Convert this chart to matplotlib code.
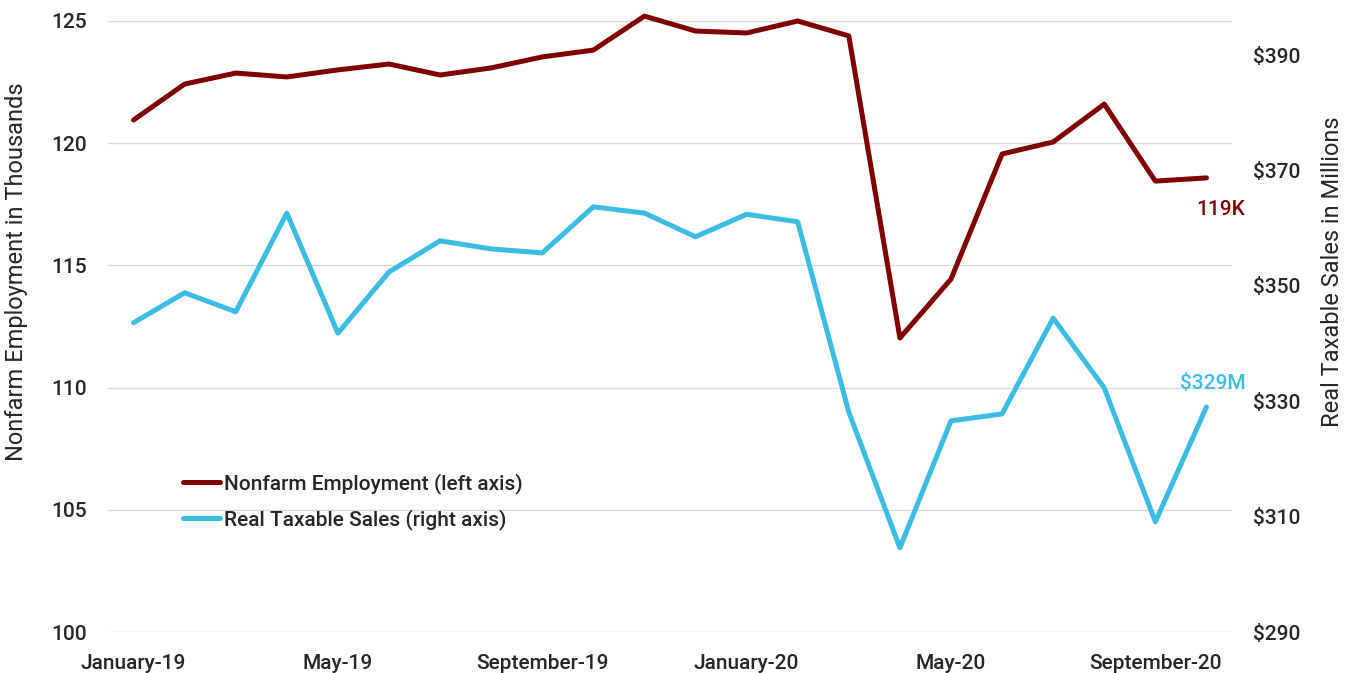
import matplotlib
matplotlib.use('Agg')
import matplotlib.pyplot as plt

# Monthly data, January 2019 - October 2020
months = ['January-19', 'February-19', 'March-19', 'April-19', 'May-19', 'June-19',
          'July-19', 'August-19', 'September-19', 'October-19', 'November-19', 'December-19',
          'January-20', 'February-20', 'March-20', 'April-20', 'May-20', 'June-20',
          'July-20', 'August-20', 'September-20', 'October-20']
employment = [120.95, 122.42, 122.87, 122.71, 123.0, 123.24, 122.79, 123.08, 123.53, 123.81,
              125.2, 124.59, 124.51, 125.0, 124.39, 112.03, 114.44, 119.56, 120.05, 121.6,
              118.45, 118.58]
sales = [343.6, 348.8, 345.5, 362.6, 341.8, 352.4, 357.8, 356.4, 355.7, 363.7, 362.6, 358.5,
         362.4, 361.1, 328.1, 304.6, 326.6, 327.8, 344.4, 332.3, 309.1, 329.0]
left_ticks = [100, 105, 110, 115, 120, 125]
right_ticks = [290, 310, 330, 350, 370, 390]

red = '#7f0000'
blue = '#3bbde3'
text_col = '#262626'
plt.rcParams['font.family'] = ['Roboto', 'DejaVu Sans']
plt.rcParams['font.weight'] = 'medium'

fig = plt.figure(figsize=(13.49, 6.73), dpi=100)
ax = fig.add_axes([108 / 1349, 41 / 673, 1124 / 1349, 611 / 673])
ax2 = ax.twinx()

x = list(range(len(months)))
l1, = ax.plot(x, employment, color=red, lw=3.6, solid_capstyle='round', clip_on=False,
              label='Nonfarm Employment (left axis)')
l2, = ax2.plot(x, sales, color=blue, lw=3.6, solid_capstyle='round', clip_on=False,
               label='Real Taxable Sales (right axis)')

ax.set_xlim(-0.5, len(months) - 0.5)
ax.set_ylim(100, 125)
ax2.set_ylim(290, 395.9)
ax.set_yticks(left_ticks)
ax2.set_yticks(right_ticks)
ax2.set_yticklabels(['$%d' % v for v in right_ticks])
ax.set_xticks(x[::4])
ax.set_xticklabels(months[::4])

ax.grid(axis='y', color='#d9d9d9', lw=1)
ax.set_axisbelow(True)
for a in (ax, ax2):
    for s in a.spines.values():
        s.set_visible(False)
    a.tick_params(length=0, labelsize=15, colors=text_col)
ax.tick_params(axis='y', pad=15)
ax2.tick_params(axis='y', pad=15)
ax.tick_params(axis='x', pad=16)

ax.set_ylabel('Nonfarm Employment in Thousands', fontsize=17, color=text_col)
ax2.set_ylabel('Real Taxable Sales in Millions', fontsize=17, color=text_col)
ax.yaxis.set_label_coords(-0.071, 0.59)
ax2.yaxis.set_label_coords(1.079, 0.59)

ax.annotate('119K', (x[-1], employment[-1]), xytext=(28, -23), textcoords='offset points',
            ha='right', va='center', color=red, fontsize=15)
ax2.annotate('$329M', (x[-1], sales[-1]), xytext=(28, 17), textcoords='offset points',
             ha='right', va='center', color=blue, fontsize=15)

leg = ax.legend(handles=[l1, l2], loc='upper left', bbox_to_anchor=(0.05, 0.291),
                frameon=False, fontsize=15, handlelength=1.8, handletextpad=0.15,
                labelspacing=0.75)
for t in leg.get_texts():
    t.set_color(text_col)

fig.savefig('out.png', dpi=100)
